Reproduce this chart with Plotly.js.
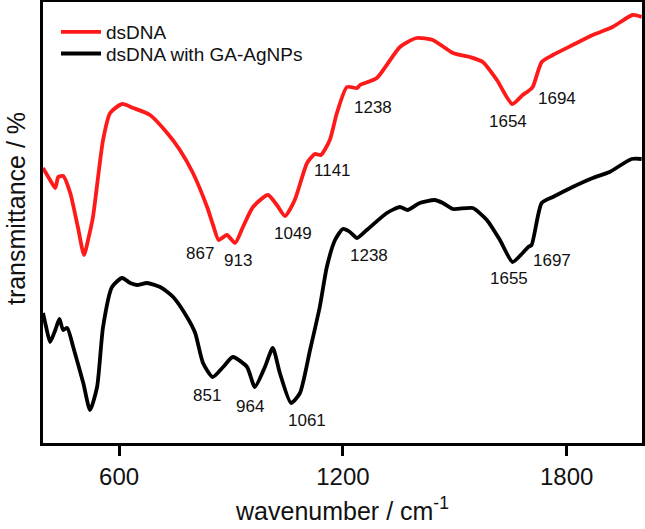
<!DOCTYPE html>
<html>
<head>
<meta charset="utf-8">
<script src="https://cdn.plot.ly/plotly-3.0.1.min.js"></script>
<style>html,body{margin:0;padding:0;background:#fff;}#chart{width:645px;height:529px;}</style>
</head>
<body>
<div id="chart"></div>
<script>
// dsDNA (red)
const wnRed = [396,415,429,437,450,469,490,506,518,530,557,576,608,638,683,729,763,798,836,852,867,889,911,932,959,999,1023,1045,1071,1104,1125,1141,1165,1184,1211,1238,1246,1291,1353,1398,1441,1495,1540,1575,1613,1654,1682,1694,1709,1733,1763,1816,1870,1923,1977,2001];
const tRed  = [275,263,255,266,267,250,215,188,205,226,303,330,339,335,328,310,293,270,236,218,203,208,200,216,236,248,238,227,243,280,289,288,303,330,356,355,358,365,396,405,403,390,386,381,363,339,348,351,356,381,388,398,408,416,428,426];

// dsDNA with GA-AgNPs (black)
const wnBlack = [396,405,415,429,440,450,461,477,504,522,541,557,581,608,630,648,675,710,745,782,804,825,851,879,905,943,964,991,1012,1031,1061,1085,1112,1138,1157,1179,1200,1219,1238,1264,1318,1353,1374,1406,1446,1468,1495,1548,1586,1621,1655,1682,1697,1706,1733,1763,1816,1870,1915,1974,2001];
const tBlack  = [130,115,101,113,124,113,115,96,60,33,56,116,156,165,160,158,160,156,146,126,110,80,66,76,86,76,56,76,95,70,40,50,93,136,176,203,214,211,205,213,230,236,233,240,243,240,234,235,223,203,181,190,196,198,240,246,256,265,271,284,284];

// peak labels
const redPeaks = ['867','913','1049','1141','1238','1654','1694'];
const redPeakX = [817,919,1066,1173,1280,1642,1773];
const redPeakY = [190,183,210,273,336,322,345];
const blackPeaks = ['851','964','1061','1238','1655','1697'];
const blackPeakX = [836,951,1104,1270,1645,1760];
const blackPeakY = [48,37,23,188,165,183];

const xTicks = [600,1200,1800];
const seriesNames = ['dsDNA','dsDNA with GA-AgNPs'];
const yTitle = 'transmittance / %';

const FONT = '"Liberation Sans", Arial, Helvetica, sans-serif';

const traces = [
  {x: wnRed, y: tRed, mode: 'lines', name: seriesNames[0], legend: 'legend', line: {color: '#ff1a1a', width: 3.8, shape: 'spline', smoothing: 0.6}},
  {x: wnBlack, y: tBlack, mode: 'lines', name: seriesNames[1], legend: 'legend2', line: {color: '#000000', width: 3.8, shape: 'spline', smoothing: 0.6}}
];

const annotations = [];
redPeaks.forEach((t, i) => annotations.push({x: redPeakX[i], y: redPeakY[i], text: t, showarrow: false, xref: 'x', yref: 'y', font: {size: 17, color: '#111', family: FONT}}));
blackPeaks.forEach((t, i) => annotations.push({x: blackPeakX[i], y: blackPeakY[i], text: t, showarrow: false, xref: 'x', yref: 'y', font: {size: 17, color: '#111', family: FONT}}));
// y-axis title (placed as rotated text to match the reference position)
annotations.push({xref: 'paper', yref: 'paper', x: -0.045, y: 0.5306, xanchor: 'center', yanchor: 'middle', textangle: -90, text: yTitle, showarrow: false, font: {size: 25, family: FONT, color: '#111'}});

const legendBase = {xanchor: 'left', yanchor: 'top', bgcolor: 'rgba(0,0,0,0)', font: {size: 19, family: FONT, color: '#111'}, itemwidth: 40};

const layout = {
  width: 645, height: 529,
  margin: {l: 43, r: 3, t: 2, b: 86},
  paper_bgcolor: '#fff', plot_bgcolor: '#fff',
  font: {family: FONT, color: '#111'},
  showlegend: true,
  legend: Object.assign({x: 0.0217, y: 0.975}, legendBase),
  legend2: Object.assign({x: 0.0217, y: 0.926}, legendBase),
  xaxis: {
    range: [396, 2002], showgrid: false, zeroline: false,
    showline: true, mirror: true, linecolor: '#000', linewidth: 3,
    ticks: 'outside', ticklen: 10, tickwidth: 3, tickcolor: '#000',
    tickvals: xTicks, ticktext: xTicks.map(String),
    tickfont: {size: 24, family: FONT, color: '#111'},
    title: {text: 'wavenumber / cm<sup>-1</sup>', font: {size: 25, family: FONT, color: '#111'}, standoff: 14}
  },
  yaxis: {
    range: [0, 441], showgrid: false, zeroline: false,
    showline: true, mirror: true, linecolor: '#000', linewidth: 3,
    ticks: '', showticklabels: false
  },
  annotations: annotations
};

Plotly.newPlot('chart', traces, layout, {displayModeBar: false, staticPlot: true});
</script>
</body>
</html>
